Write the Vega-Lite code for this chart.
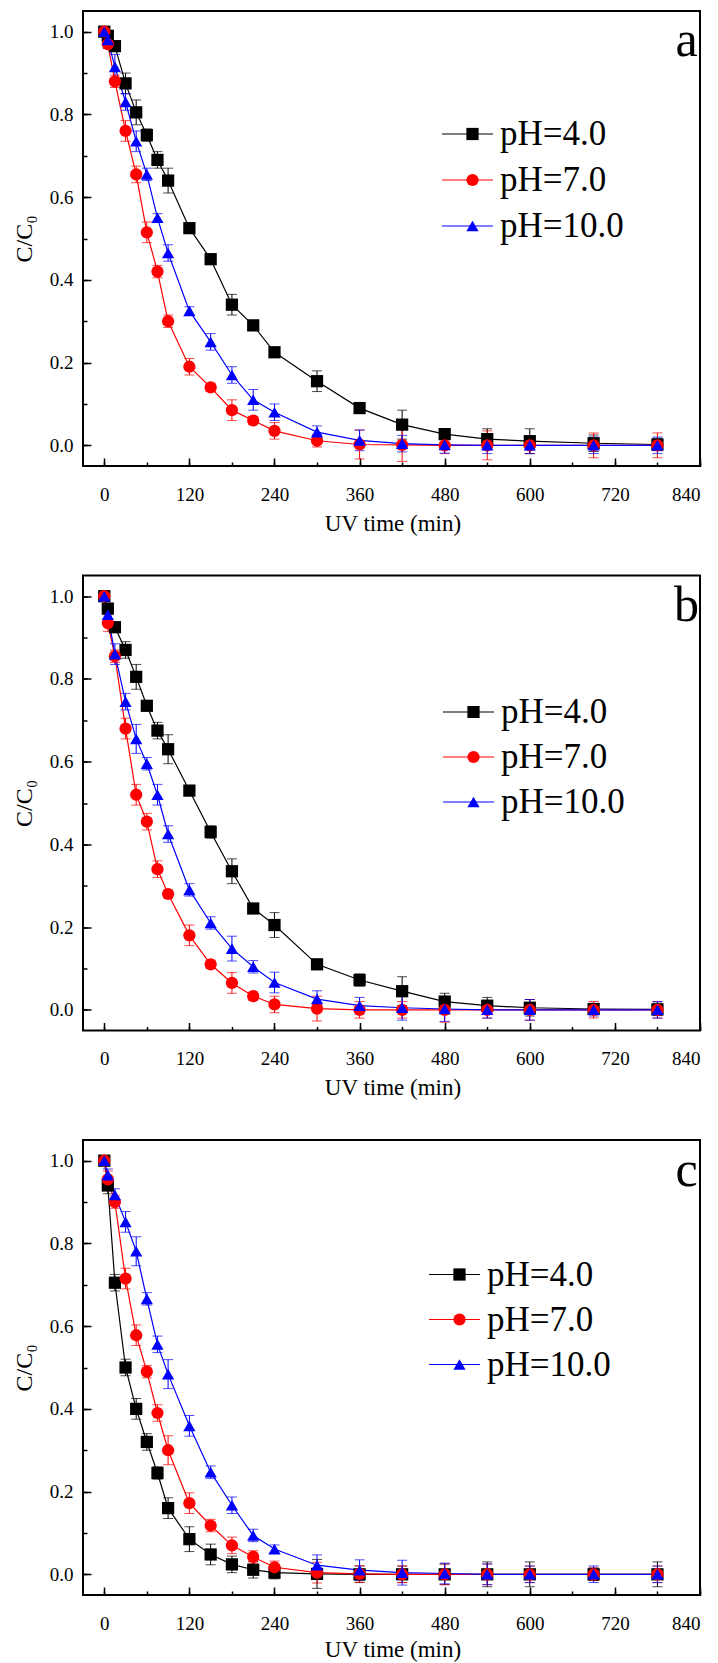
{
  "$schema": "https://vega.github.io/schema/vega-lite/v6.json",
  "background": "white",
  "padding": {"left": 11, "top": 10, "right": 5, "bottom": 0},
  "config": {
    "view": {"stroke": "black", "strokeWidth": 2},
    "font": "Liberation Serif",
    "axis": {"labelFont": "Liberation Serif", "titleFont": "Liberation Serif", "labelColor": "black", "titleColor": "black", "tickColor": "black", "domainColor": "black", "grid": false},
    "legend": {"labelFont": "Liberation Serif", "labelColor": "black"}
  },
  "datasets": {
    "a": [
      {"t":0,"v":1.0,"e":0.005,"s":"pH=4.0"},{"t":5,"v":0.99,"e":0.01,"s":"pH=4.0"},{"t":15,"v":0.965,"e":0.01,"s":"pH=4.0"},{"t":30,"v":0.875,"e":0.025,"s":"pH=4.0"},{"t":45,"v":0.805,"e":0.03,"s":"pH=4.0"},{"t":60,"v":0.75,"e":0.015,"s":"pH=4.0"},{"t":75,"v":0.69,"e":0.02,"s":"pH=4.0"},{"t":90,"v":0.64,"e":0.03,"s":"pH=4.0"},{"t":120,"v":0.525,"e":0.01,"s":"pH=4.0"},{"t":150,"v":0.45,"e":0.01,"s":"pH=4.0"},{"t":180,"v":0.34,"e":0.025,"s":"pH=4.0"},{"t":210,"v":0.29,"e":0.01,"s":"pH=4.0"},{"t":240,"v":0.225,"e":0.01,"s":"pH=4.0"},{"t":300,"v":0.155,"e":0.025,"s":"pH=4.0"},{"t":360,"v":0.09,"e":0.01,"s":"pH=4.0"},{"t":420,"v":0.05,"e":0.035,"s":"pH=4.0"},{"t":480,"v":0.027,"e":0.01,"s":"pH=4.0"},{"t":540,"v":0.015,"e":0.025,"s":"pH=4.0"},{"t":600,"v":0.01,"e":0.03,"s":"pH=4.0"},{"t":690,"v":0.005,"e":0.02,"s":"pH=4.0"},{"t":780,"v":0.002,"e":0.015,"s":"pH=4.0"},
      {"t":0,"v":1.0,"e":0.01,"s":"pH=7.0"},{"t":5,"v":0.97,"e":0.01,"s":"pH=7.0"},{"t":15,"v":0.88,"e":0.015,"s":"pH=7.0"},{"t":30,"v":0.76,"e":0.025,"s":"pH=7.0"},{"t":45,"v":0.655,"e":0.02,"s":"pH=7.0"},{"t":60,"v":0.515,"e":0.025,"s":"pH=7.0"},{"t":75,"v":0.42,"e":0.015,"s":"pH=7.0"},{"t":90,"v":0.3,"e":0.015,"s":"pH=7.0"},{"t":120,"v":0.19,"e":0.02,"s":"pH=7.0"},{"t":150,"v":0.14,"e":0.01,"s":"pH=7.0"},{"t":180,"v":0.085,"e":0.025,"s":"pH=7.0"},{"t":210,"v":0.06,"e":0.01,"s":"pH=7.0"},{"t":240,"v":0.035,"e":0.02,"s":"pH=7.0"},{"t":300,"v":0.011,"e":0.015,"s":"pH=7.0"},{"t":360,"v":0.002,"e":0.035,"s":"pH=7.0"},{"t":420,"v":0.001,"e":0.04,"s":"pH=7.0"},{"t":480,"v":0.0,"e":0.02,"s":"pH=7.0"},{"t":540,"v":0.0,"e":0.035,"s":"pH=7.0"},{"t":600,"v":0.0,"e":0.02,"s":"pH=7.0"},{"t":690,"v":0.0,"e":0.03,"s":"pH=7.0"},{"t":780,"v":0.0,"e":0.03,"s":"pH=7.0"},
      {"t":0,"v":1.0,"e":0.01,"s":"pH=10.0"},{"t":5,"v":0.98,"e":0.02,"s":"pH=10.0"},{"t":15,"v":0.915,"e":0.03,"s":"pH=10.0"},{"t":30,"v":0.83,"e":0.02,"s":"pH=10.0"},{"t":45,"v":0.735,"e":0.025,"s":"pH=10.0"},{"t":60,"v":0.655,"e":0.015,"s":"pH=10.0"},{"t":75,"v":0.55,"e":0.01,"s":"pH=10.0"},{"t":90,"v":0.465,"e":0.02,"s":"pH=10.0"},{"t":120,"v":0.325,"e":0.01,"s":"pH=10.0"},{"t":150,"v":0.25,"e":0.02,"s":"pH=10.0"},{"t":180,"v":0.17,"e":0.02,"s":"pH=10.0"},{"t":210,"v":0.11,"e":0.025,"s":"pH=10.0"},{"t":240,"v":0.08,"e":0.02,"s":"pH=10.0"},{"t":300,"v":0.032,"e":0.015,"s":"pH=10.0"},{"t":360,"v":0.012,"e":0.025,"s":"pH=10.0"},{"t":420,"v":0.004,"e":0.02,"s":"pH=10.0"},{"t":480,"v":0.001,"e":0.02,"s":"pH=10.0"},{"t":540,"v":0.0,"e":0.02,"s":"pH=10.0"},{"t":600,"v":0.0,"e":0.02,"s":"pH=10.0"},{"t":690,"v":0.0,"e":0.02,"s":"pH=10.0"},{"t":780,"v":0.0,"e":0.02,"s":"pH=10.0"}
    ],
    "b": [
      {"t":0,"v":1.0,"e":0.005,"s":"pH=4.0"},{"t":5,"v":0.97,"e":0.01,"s":"pH=4.0"},{"t":15,"v":0.925,"e":0.01,"s":"pH=4.0"},{"t":30,"v":0.87,"e":0.02,"s":"pH=4.0"},{"t":45,"v":0.805,"e":0.03,"s":"pH=4.0"},{"t":60,"v":0.735,"e":0.01,"s":"pH=4.0"},{"t":75,"v":0.675,"e":0.02,"s":"pH=4.0"},{"t":90,"v":0.63,"e":0.035,"s":"pH=4.0"},{"t":120,"v":0.53,"e":0.01,"s":"pH=4.0"},{"t":150,"v":0.43,"e":0.015,"s":"pH=4.0"},{"t":180,"v":0.335,"e":0.03,"s":"pH=4.0"},{"t":210,"v":0.245,"e":0.01,"s":"pH=4.0"},{"t":240,"v":0.205,"e":0.03,"s":"pH=4.0"},{"t":300,"v":0.11,"e":0.01,"s":"pH=4.0"},{"t":360,"v":0.072,"e":0.015,"s":"pH=4.0"},{"t":420,"v":0.045,"e":0.035,"s":"pH=4.0"},{"t":480,"v":0.02,"e":0.02,"s":"pH=4.0"},{"t":540,"v":0.01,"e":0.02,"s":"pH=4.0"},{"t":600,"v":0.005,"e":0.02,"s":"pH=4.0"},{"t":690,"v":0.002,"e":0.01,"s":"pH=4.0"},{"t":780,"v":0.001,"e":0.015,"s":"pH=4.0"},
      {"t":0,"v":1.0,"e":0.01,"s":"pH=7.0"},{"t":5,"v":0.935,"e":0.02,"s":"pH=7.0"},{"t":15,"v":0.855,"e":0.015,"s":"pH=7.0"},{"t":30,"v":0.68,"e":0.025,"s":"pH=7.0"},{"t":45,"v":0.52,"e":0.025,"s":"pH=7.0"},{"t":60,"v":0.455,"e":0.02,"s":"pH=7.0"},{"t":75,"v":0.34,"e":0.02,"s":"pH=7.0"},{"t":90,"v":0.28,"e":0.01,"s":"pH=7.0"},{"t":120,"v":0.18,"e":0.025,"s":"pH=7.0"},{"t":150,"v":0.11,"e":0.01,"s":"pH=7.0"},{"t":180,"v":0.065,"e":0.025,"s":"pH=7.0"},{"t":210,"v":0.033,"e":0.01,"s":"pH=7.0"},{"t":240,"v":0.013,"e":0.02,"s":"pH=7.0"},{"t":300,"v":0.003,"e":0.03,"s":"pH=7.0"},{"t":360,"v":0.0,"e":0.02,"s":"pH=7.0"},{"t":420,"v":0.0,"e":0.02,"s":"pH=7.0"},{"t":480,"v":0.0,"e":0.03,"s":"pH=7.0"},{"t":540,"v":0.0,"e":0.02,"s":"pH=7.0"},{"t":600,"v":0.0,"e":0.025,"s":"pH=7.0"},{"t":690,"v":0.0,"e":0.02,"s":"pH=7.0"},{"t":780,"v":0.0,"e":0.02,"s":"pH=7.0"},
      {"t":0,"v":1.0,"e":0.01,"s":"pH=10.0"},{"t":5,"v":0.955,"e":0.02,"s":"pH=10.0"},{"t":15,"v":0.86,"e":0.025,"s":"pH=10.0"},{"t":30,"v":0.745,"e":0.02,"s":"pH=10.0"},{"t":45,"v":0.655,"e":0.035,"s":"pH=10.0"},{"t":60,"v":0.595,"e":0.015,"s":"pH=10.0"},{"t":75,"v":0.52,"e":0.025,"s":"pH=10.0"},{"t":90,"v":0.425,"e":0.02,"s":"pH=10.0"},{"t":120,"v":0.29,"e":0.015,"s":"pH=10.0"},{"t":150,"v":0.21,"e":0.015,"s":"pH=10.0"},{"t":180,"v":0.148,"e":0.03,"s":"pH=10.0"},{"t":210,"v":0.104,"e":0.015,"s":"pH=10.0"},{"t":240,"v":0.066,"e":0.025,"s":"pH=10.0"},{"t":300,"v":0.026,"e":0.02,"s":"pH=10.0"},{"t":360,"v":0.01,"e":0.02,"s":"pH=10.0"},{"t":420,"v":0.005,"e":0.03,"s":"pH=10.0"},{"t":480,"v":0.002,"e":0.03,"s":"pH=10.0"},{"t":540,"v":0.0,"e":0.02,"s":"pH=10.0"},{"t":600,"v":0.0,"e":0.025,"s":"pH=10.0"},{"t":690,"v":0.0,"e":0.015,"s":"pH=10.0"},{"t":780,"v":0.0,"e":0.02,"s":"pH=10.0"}
    ],
    "c": [
      {"t":0,"v":1.0,"e":0.005,"s":"pH=4.0"},{"t":5,"v":0.94,"e":0.02,"s":"pH=4.0"},{"t":15,"v":0.705,"e":0.02,"s":"pH=4.0"},{"t":30,"v":0.5,"e":0.02,"s":"pH=4.0"},{"t":45,"v":0.4,"e":0.025,"s":"pH=4.0"},{"t":60,"v":0.32,"e":0.02,"s":"pH=4.0"},{"t":75,"v":0.245,"e":0.015,"s":"pH=4.0"},{"t":90,"v":0.16,"e":0.025,"s":"pH=4.0"},{"t":120,"v":0.085,"e":0.03,"s":"pH=4.0"},{"t":150,"v":0.048,"e":0.025,"s":"pH=4.0"},{"t":180,"v":0.024,"e":0.02,"s":"pH=4.0"},{"t":210,"v":0.011,"e":0.02,"s":"pH=4.0"},{"t":240,"v":0.004,"e":0.015,"s":"pH=4.0"},{"t":300,"v":0.001,"e":0.035,"s":"pH=4.0"},{"t":360,"v":0.0,"e":0.02,"s":"pH=4.0"},{"t":420,"v":0.0,"e":0.02,"s":"pH=4.0"},{"t":480,"v":0.0,"e":0.025,"s":"pH=4.0"},{"t":540,"v":0.0,"e":0.03,"s":"pH=4.0"},{"t":600,"v":0.0,"e":0.03,"s":"pH=4.0"},{"t":690,"v":0.0,"e":0.015,"s":"pH=4.0"},{"t":780,"v":0.0,"e":0.03,"s":"pH=4.0"},
      {"t":0,"v":1.0,"e":0.01,"s":"pH=7.0"},{"t":5,"v":0.955,"e":0.02,"s":"pH=7.0"},{"t":15,"v":0.9,"e":0.015,"s":"pH=7.0"},{"t":30,"v":0.715,"e":0.025,"s":"pH=7.0"},{"t":45,"v":0.578,"e":0.025,"s":"pH=7.0"},{"t":60,"v":0.49,"e":0.015,"s":"pH=7.0"},{"t":75,"v":0.39,"e":0.02,"s":"pH=7.0"},{"t":90,"v":0.3,"e":0.035,"s":"pH=7.0"},{"t":120,"v":0.172,"e":0.025,"s":"pH=7.0"},{"t":150,"v":0.118,"e":0.015,"s":"pH=7.0"},{"t":180,"v":0.07,"e":0.02,"s":"pH=7.0"},{"t":210,"v":0.042,"e":0.015,"s":"pH=7.0"},{"t":240,"v":0.017,"e":0.015,"s":"pH=7.0"},{"t":300,"v":0.004,"e":0.025,"s":"pH=7.0"},{"t":360,"v":0.001,"e":0.02,"s":"pH=7.0"},{"t":420,"v":0.0,"e":0.02,"s":"pH=7.0"},{"t":480,"v":0.0,"e":0.025,"s":"pH=7.0"},{"t":540,"v":0.0,"e":0.025,"s":"pH=7.0"},{"t":600,"v":0.0,"e":0.02,"s":"pH=7.0"},{"t":690,"v":0.0,"e":0.015,"s":"pH=7.0"},{"t":780,"v":0.0,"e":0.02,"s":"pH=7.0"},
      {"t":0,"v":1.0,"e":0.01,"s":"pH=10.0"},{"t":5,"v":0.965,"e":0.015,"s":"pH=10.0"},{"t":15,"v":0.917,"e":0.015,"s":"pH=10.0"},{"t":30,"v":0.852,"e":0.025,"s":"pH=10.0"},{"t":45,"v":0.781,"e":0.035,"s":"pH=10.0"},{"t":60,"v":0.666,"e":0.015,"s":"pH=10.0"},{"t":75,"v":0.556,"e":0.02,"s":"pH=10.0"},{"t":90,"v":0.484,"e":0.035,"s":"pH=10.0"},{"t":120,"v":0.359,"e":0.025,"s":"pH=10.0"},{"t":150,"v":0.247,"e":0.015,"s":"pH=10.0"},{"t":180,"v":0.167,"e":0.02,"s":"pH=10.0"},{"t":210,"v":0.094,"e":0.015,"s":"pH=10.0"},{"t":240,"v":0.061,"e":0.01,"s":"pH=10.0"},{"t":300,"v":0.022,"e":0.025,"s":"pH=10.0"},{"t":360,"v":0.01,"e":0.025,"s":"pH=10.0"},{"t":420,"v":0.004,"e":0.03,"s":"pH=10.0"},{"t":480,"v":0.002,"e":0.025,"s":"pH=10.0"},{"t":540,"v":0.0,"e":0.025,"s":"pH=10.0"},{"t":600,"v":0.0,"e":0.02,"s":"pH=10.0"},{"t":690,"v":0.0,"e":0.02,"s":"pH=10.0"},{"t":780,"v":0.0,"e":0.02,"s":"pH=10.0"}
    ]
  },
  "spacing": 109.5,
  "bounds": "flush",
  "resolve": {
    "scale": {"stroke": "independent", "fill": "independent", "shape": "independent", "color": "independent"},
    "legend": {"stroke": "independent", "fill": "independent", "shape": "independent", "color": "independent"}
  },
  "vconcat": [
    {
      "width": 617, "height": 455,
      "data": {"name": "a"},
      "resolve": {"axis": {"x": "independent", "y": "independent"}, "legend": {"stroke": "independent", "color": "independent"}},
      "layer": [
        {
          "mark": {"type": "line", "strokeWidth": 1.2},
          "encoding": {
            "x": {"field": "t", "type": "quantitative", "scale": {"domain": [-30, 840], "nice": false, "zero": false},
                  "axis": {"orient": "bottom", "values": [0,60,120,180,240,300,360,420,480,540,600,660,720,780,840], "labels": false, "domain": false, "tickSize": -4, "tickWidth": 1.5, "title": null}},
            "y": {"field": "v", "type": "quantitative", "scale": {"domain": [-0.05, 1.05], "nice": false, "zero": false},
                  "axis": {"orient": "left", "values": [0,0.1,0.2,0.3,0.4,0.5,0.6,0.7,0.8,0.9,1.0], "labels": false, "domain": false, "tickSize": -4, "tickWidth": 1.5, "title": null}},
            "stroke": {"field": "s", "type": "nominal", "scale": {"domain": ["pH=4.0", "pH=7.0", "pH=10.0"], "range": ["#000000", "#ff0000", "#0000ff"]},
                       "legend": {"orient": "none", "legendX": 358, "legendY": 100, "title": null, "symbolType": "stroke", "symbolSize": 2601, "symbolStrokeWidth": 1.2, "labelFont": "Liberation Serif", "labelFontSize": 35, "labelOffset": 6, "clipHeight": 46, "rowPadding": 0, "padding": 0}}
          }
        },
        {
          "mark": {"type": "errorbar", "thickness": 1, "ticks": {"size": 10, "thickness": 1}},
          "encoding": {
            "x": {"field": "t", "type": "quantitative", "axis": null},
            "y": {"field": "v", "type": "quantitative", "axis": null},
            "yError": {"field": "e"},
            "color": {"field": "s", "type": "nominal", "scale": {"domain": ["pH=4.0", "pH=7.0", "pH=10.0"], "range": ["#000000", "#ff0000", "#0000ff"]}, "legend": null}
          }
        },
        {
          "mark": {"type": "point", "filled": true, "opacity": 1, "size": 150, "strokeWidth": 0},
          "encoding": {
            "x": {"field": "t", "type": "quantitative",
                  "axis": {"orient": "bottom", "values": [0,120,240,360,480,600,720,840], "format": "d", "labelFont": "Liberation Serif", "labelFontSize": 19, "labelPadding": 27, "domain": false, "tickSize": -8, "tickWidth": 1.5, "title": "UV time (min)", "titleFont": "Liberation Serif", "titleFontSize": 23, "titleFontWeight": "normal", "titleX": 309.5, "titleY": 64, "titleBaseline": "alphabetic", "titleAlign": "center"}},
            "y": {"field": "v", "type": "quantitative",
                  "axis": {"orient": "left", "values": [0,0.2,0.4,0.6,0.8,1.0], "format": ".1f", "labelFont": "Liberation Serif", "labelFontSize": 19, "labelPadding": 18, "domain": false, "tickSize": -8, "tickWidth": 1.5, "title": "C/C₀", "titleFont": "Liberation Serif", "titleFontSize": 24, "titleFontWeight": "normal", "titleX": -59, "titleY": 227.5, "titleAngle": 270, "titleAlign": "center", "titleBaseline": "middle"}},
            "fill": {"field": "s", "type": "nominal", "scale": {"domain": ["pH=4.0", "pH=7.0", "pH=10.0"], "range": ["#000000", "#ff0000", "#0000ff"]},
                     "legend": {"orient": "none", "legendX": 372, "legendY": 100, "title": null, "symbolSize": 150, "symbolStrokeWidth": 0, "labelExpr": "''", "labelFontSize": 35, "clipHeight": 46, "rowPadding": 0, "padding": 0}},
            "shape": {"field": "s", "type": "nominal", "scale": {"domain": ["pH=4.0", "pH=7.0", "pH=10.0"], "range": ["square", "circle", "triangle-up"]},
                      "legend": {"orient": "none", "legendX": 372, "legendY": 100, "title": null, "symbolSize": 150, "symbolStrokeWidth": 0, "labelExpr": "''", "labelFontSize": 35, "clipHeight": 46, "rowPadding": 0, "padding": 0}}
          }
        },
        {
          "data": {"values": [{"lab": "a"}]},
          "mark": {"type": "text", "fontSize": 50, "font": "Liberation Serif", "align": "center", "baseline": "alphabetic", "color": "black"},
          "encoding": {
            "x": {"datum": 821, "type": "quantitative", "axis": null},
            "y": {"datum": 0.941, "type": "quantitative", "axis": null},
            "text": {"field": "lab"}
          }
        }
      ]
    },
    {
      "width": 617, "height": 455,
      "data": {"name": "b"},
      "resolve": {"axis": {"x": "independent", "y": "independent"}, "legend": {"stroke": "independent", "color": "independent"}},
      "layer": [
        {
          "mark": {"type": "line", "strokeWidth": 1.2},
          "encoding": {
            "x": {"field": "t", "type": "quantitative", "scale": {"domain": [-30, 840], "nice": false, "zero": false},
                  "axis": {"orient": "bottom", "values": [0,60,120,180,240,300,360,420,480,540,600,660,720,780,840], "labels": false, "domain": false, "tickSize": -4, "tickWidth": 1.5, "title": null}},
            "y": {"field": "v", "type": "quantitative", "scale": {"domain": [-0.05, 1.05], "nice": false, "zero": false},
                  "axis": {"orient": "left", "values": [0,0.1,0.2,0.3,0.4,0.5,0.6,0.7,0.8,0.9,1.0], "labels": false, "domain": false, "tickSize": -4, "tickWidth": 1.5, "title": null}},
            "stroke": {"field": "s", "type": "nominal", "scale": {"domain": ["pH=4.0", "pH=7.0", "pH=10.0"], "range": ["#000000", "#ff0000", "#0000ff"]},
                       "legend": {"orient": "none", "legendX": 359, "legendY": 114, "title": null, "symbolType": "stroke", "symbolSize": 2601, "symbolStrokeWidth": 1.2, "labelFont": "Liberation Serif", "labelFontSize": 35, "labelOffset": 6, "clipHeight": 45, "rowPadding": 0, "padding": 0}}
          }
        },
        {
          "mark": {"type": "errorbar", "thickness": 1, "ticks": {"size": 10, "thickness": 1}},
          "encoding": {
            "x": {"field": "t", "type": "quantitative", "axis": null},
            "y": {"field": "v", "type": "quantitative", "axis": null},
            "yError": {"field": "e"},
            "color": {"field": "s", "type": "nominal", "scale": {"domain": ["pH=4.0", "pH=7.0", "pH=10.0"], "range": ["#000000", "#ff0000", "#0000ff"]}, "legend": null}
          }
        },
        {
          "mark": {"type": "point", "filled": true, "opacity": 1, "size": 150, "strokeWidth": 0},
          "encoding": {
            "x": {"field": "t", "type": "quantitative",
                  "axis": {"orient": "bottom", "values": [0,120,240,360,480,600,720,840], "format": "d", "labelFont": "Liberation Serif", "labelFontSize": 19, "labelPadding": 27, "domain": false, "tickSize": -8, "tickWidth": 1.5, "title": "UV time (min)", "titleFont": "Liberation Serif", "titleFontSize": 23, "titleFontWeight": "normal", "titleX": 309.5, "titleY": 64, "titleBaseline": "alphabetic", "titleAlign": "center"}},
            "y": {"field": "v", "type": "quantitative",
                  "axis": {"orient": "left", "values": [0,0.2,0.4,0.6,0.8,1.0], "format": ".1f", "labelFont": "Liberation Serif", "labelFontSize": 19, "labelPadding": 18, "domain": false, "tickSize": -8, "tickWidth": 1.5, "title": "C/C₀", "titleFont": "Liberation Serif", "titleFontSize": 24, "titleFontWeight": "normal", "titleX": -59, "titleY": 227.5, "titleAngle": 270, "titleAlign": "center", "titleBaseline": "middle"}},
            "fill": {"field": "s", "type": "nominal", "scale": {"domain": ["pH=4.0", "pH=7.0", "pH=10.0"], "range": ["#000000", "#ff0000", "#0000ff"]},
                     "legend": {"orient": "none", "legendX": 373, "legendY": 114, "title": null, "symbolSize": 150, "symbolStrokeWidth": 0, "labelExpr": "''", "labelFontSize": 35, "clipHeight": 45, "rowPadding": 0, "padding": 0}},
            "shape": {"field": "s", "type": "nominal", "scale": {"domain": ["pH=4.0", "pH=7.0", "pH=10.0"], "range": ["square", "circle", "triangle-up"]},
                      "legend": {"orient": "none", "legendX": 373, "legendY": 114, "title": null, "symbolSize": 150, "symbolStrokeWidth": 0, "labelExpr": "''", "labelFontSize": 35, "clipHeight": 45, "rowPadding": 0, "padding": 0}}
          }
        },
        {
          "data": {"values": [{"lab": "b"}]},
          "mark": {"type": "text", "fontSize": 50, "font": "Liberation Serif", "align": "center", "baseline": "alphabetic", "color": "black"},
          "encoding": {
            "x": {"datum": 821, "type": "quantitative", "axis": null},
            "y": {"datum": 0.941, "type": "quantitative", "axis": null},
            "text": {"field": "lab"}
          }
        }
      ]
    },
    {
      "width": 617, "height": 455,
      "data": {"name": "c"},
      "resolve": {"axis": {"x": "independent", "y": "independent"}, "legend": {"stroke": "independent", "color": "independent"}},
      "layer": [
        {
          "mark": {"type": "line", "strokeWidth": 1.2},
          "encoding": {
            "x": {"field": "t", "type": "quantitative", "scale": {"domain": [-30, 840], "nice": false, "zero": false},
                  "axis": {"orient": "bottom", "values": [0,60,120,180,240,300,360,420,480,540,600,660,720,780,840], "labels": false, "domain": false, "tickSize": -4, "tickWidth": 1.5, "title": null}},
            "y": {"field": "v", "type": "quantitative", "scale": {"domain": [-0.05, 1.05], "nice": false, "zero": false},
                  "axis": {"orient": "left", "values": [0,0.1,0.2,0.3,0.4,0.5,0.6,0.7,0.8,0.9,1.0], "labels": false, "domain": false, "tickSize": -4, "tickWidth": 1.5, "title": null}},
            "stroke": {"field": "s", "type": "nominal", "scale": {"domain": ["pH=4.0", "pH=7.0", "pH=10.0"], "range": ["#000000", "#ff0000", "#0000ff"]},
                       "legend": {"orient": "none", "legendX": 345, "legendY": 112, "title": null, "symbolType": "stroke", "symbolSize": 2601, "symbolStrokeWidth": 1.2, "labelFont": "Liberation Serif", "labelFontSize": 35, "labelOffset": 6, "clipHeight": 45, "rowPadding": 0, "padding": 0}}
          }
        },
        {
          "mark": {"type": "errorbar", "thickness": 1, "ticks": {"size": 10, "thickness": 1}},
          "encoding": {
            "x": {"field": "t", "type": "quantitative", "axis": null},
            "y": {"field": "v", "type": "quantitative", "axis": null},
            "yError": {"field": "e"},
            "color": {"field": "s", "type": "nominal", "scale": {"domain": ["pH=4.0", "pH=7.0", "pH=10.0"], "range": ["#000000", "#ff0000", "#0000ff"]}, "legend": null}
          }
        },
        {
          "mark": {"type": "point", "filled": true, "opacity": 1, "size": 150, "strokeWidth": 0},
          "encoding": {
            "x": {"field": "t", "type": "quantitative",
                  "axis": {"orient": "bottom", "values": [0,120,240,360,480,600,720,840], "format": "d", "labelFont": "Liberation Serif", "labelFontSize": 19, "labelPadding": 27, "domain": false, "tickSize": -8, "tickWidth": 1.5, "title": "UV time (min)", "titleFont": "Liberation Serif", "titleFontSize": 23, "titleFontWeight": "normal", "titleX": 309.5, "titleY": 61, "titleBaseline": "alphabetic", "titleAlign": "center"}},
            "y": {"field": "v", "type": "quantitative",
                  "axis": {"orient": "left", "values": [0,0.2,0.4,0.6,0.8,1.0], "format": ".1f", "labelFont": "Liberation Serif", "labelFontSize": 19, "labelPadding": 18, "domain": false, "tickSize": -8, "tickWidth": 1.5, "title": "C/C₀", "titleFont": "Liberation Serif", "titleFontSize": 24, "titleFontWeight": "normal", "titleX": -59, "titleY": 227.5, "titleAngle": 270, "titleAlign": "center", "titleBaseline": "middle"}},
            "fill": {"field": "s", "type": "nominal", "scale": {"domain": ["pH=4.0", "pH=7.0", "pH=10.0"], "range": ["#000000", "#ff0000", "#0000ff"]},
                     "legend": {"orient": "none", "legendX": 359, "legendY": 112, "title": null, "symbolSize": 150, "symbolStrokeWidth": 0, "labelExpr": "''", "labelFontSize": 35, "clipHeight": 45, "rowPadding": 0, "padding": 0}},
            "shape": {"field": "s", "type": "nominal", "scale": {"domain": ["pH=4.0", "pH=7.0", "pH=10.0"], "range": ["square", "circle", "triangle-up"]},
                      "legend": {"orient": "none", "legendX": 359, "legendY": 112, "title": null, "symbolSize": 150, "symbolStrokeWidth": 0, "labelExpr": "''", "labelFontSize": 35, "clipHeight": 45, "rowPadding": 0, "padding": 0}}
          }
        },
        {
          "data": {"values": [{"lab": "c"}]},
          "mark": {"type": "text", "fontSize": 50, "font": "Liberation Serif", "align": "center", "baseline": "alphabetic", "color": "black"},
          "encoding": {
            "x": {"datum": 821, "type": "quantitative", "axis": null},
            "y": {"datum": 0.939, "type": "quantitative", "axis": null},
            "text": {"field": "lab"}
          }
        }
      ]
    }
  ]
}
